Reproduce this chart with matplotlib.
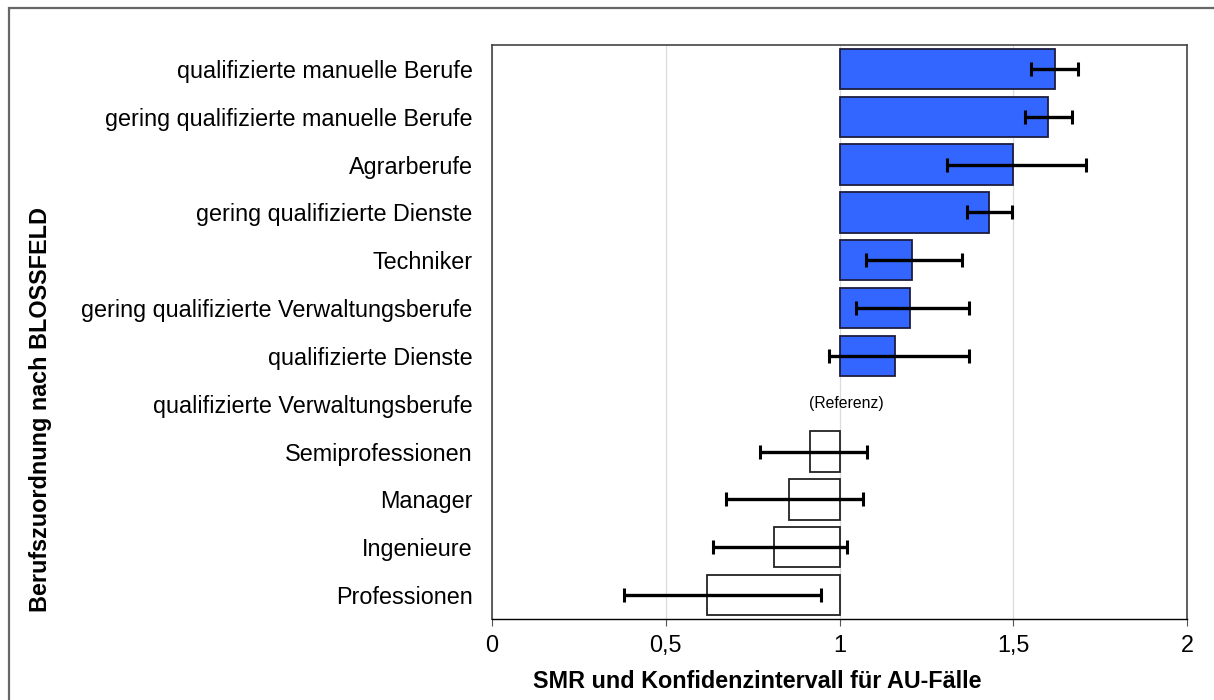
import numpy as np
import matplotlib.pyplot as plt
from matplotlib.patches import Rectangle

plt.rcParams['font.family'] = ['Liberation Sans', 'DejaVu Sans']

categories = [
    'qualifizierte manuelle Berufe',
    'gering qualifizierte manuelle Berufe',
    'Agrarberufe',
    'gering qualifizierte Dienste',
    'Techniker',
    'gering qualifizierte Verwaltungsberufe',
    'qualifizierte Dienste',
    'qualifizierte Verwaltungsberufe',
    'Semiprofessionen',
    'Manager',
    'Ingenieure',
    'Professionen',
]
smr = [1.619, 1.600, 1.500, 1.430, 1.209, 1.202, 1.160, np.nan, 0.916, 0.854, 0.812, 0.620]
ci_low = [1.550, 1.533, 1.308, 1.367, 1.077, 1.048, 0.971, np.nan, 0.771, 0.672, 0.636, 0.380]
ci_high = [1.686, 1.668, 1.708, 1.497, 1.353, 1.372, 1.372, np.nan, 1.080, 1.067, 1.022, 0.948]
reference_idx = 7
xticks = [0, 0.5, 1, 1.5, 2]
xtick_labels = ['0', '0,5', '1', '1,5', '2']

smr = np.array(smr)
ci_low = np.array(ci_low)
ci_high = np.array(ci_high)
y = np.arange(len(categories))

fig = plt.figure(figsize=(12.14, 7), dpi=100)
ax = fig.add_axes([492 / 1214, 1 - 619 / 700, 695 / 1214, 574 / 700])

# bars start at the reference value 1
colors = ['#3366ff' if v > 1 else 'white' for v in np.nan_to_num(smr, nan=1)]
edges = ['#1c1c40' if v > 1 else '#222222' for v in np.nan_to_num(smr, nan=1)]
ax.barh(y, smr - 1, left=1, height=0.84, color=colors, edgecolor=edges,
        linewidth=1.3, zorder=3)
ax.errorbar(smr, y, xerr=[smr - ci_low, ci_high - smr], fmt='none',
            ecolor='black', elinewidth=2.4, capsize=5, capthick=2.2, zorder=4)
ax.text(1.02, reference_idx, '(Referenz)', ha='center', va='center', fontsize=11.3)

ax.set_xlim(0, 2)
ax.set_ylim(len(categories) - 0.5, -0.5)
ax.set_xticks(xticks)
ax.set_xticklabels(xtick_labels, fontsize=16.8)
ax.set_yticks(y)
ax.set_yticklabels(categories, fontsize=16.8)
ax.tick_params(axis='y', length=0, pad=14)
ax.tick_params(axis='x', length=5, width=0.8, color='#555555', pad=6)
ax.xaxis.grid(True, color='#dcdcdc', linewidth=0.9, zorder=0)
ax.set_axisbelow(True)
for side in ['top', 'left', 'right']:
    ax.spines[side].set_color('#444444')
    ax.spines[side].set_linewidth(1.2)
ax.spines['bottom'].set_color('black')
ax.spines['bottom'].set_linewidth(1.0)

fig.text(757 / 1214, 1 - 681 / 700, 'SMR und Konfidenzintervall für AU-Fälle',
         ha='center', va='center', fontsize=16.8, fontweight='bold')
fig.text(41 / 1214, 1 - 410 / 700, 'Berufszuordnung nach BLOSSFELD',
         ha='center', va='center', rotation=90, fontsize=16.8, fontweight='bold')

# outer chart frame
fig.patches.append(Rectangle((9 / 1214, -0.1), 1.2, 1.1 - 8 / 700, transform=fig.transFigure,
                             fill=False, edgecolor='#666666', linewidth=1.6))

fig.savefig('out.png', dpi=100)
